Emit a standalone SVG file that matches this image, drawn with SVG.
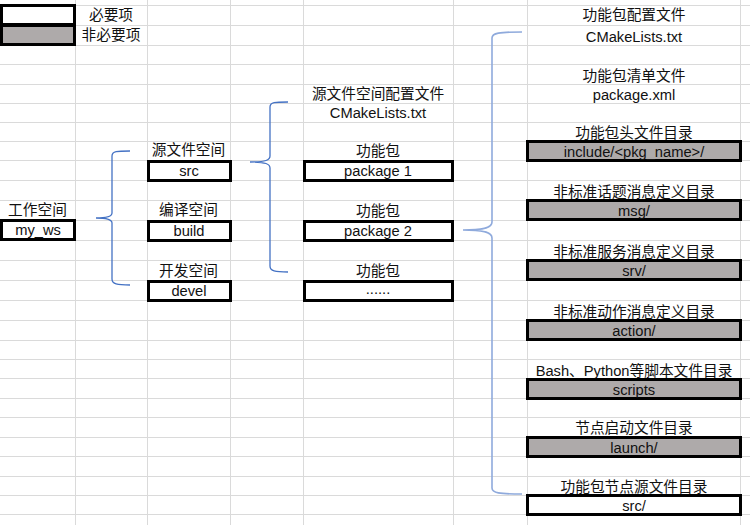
<svg xmlns="http://www.w3.org/2000/svg" width="750" height="525" viewBox="0 0 750 525">
<style>
.grid line{stroke:#DADADA;stroke-width:1}
.req{fill:#FFFFFF;stroke:#000;stroke-width:3}
.opt{fill:#AEAAAA;stroke:#000;stroke-width:3}
text{font-family:"Liberation Sans","Noto Sans CJK SC",sans-serif;font-size:14.7px;fill:#111;text-anchor:middle}
.brace{fill:none;stroke:#4472C4;stroke-width:1.3}
.brace2{fill:none;stroke:#8FAADC;stroke-width:1.6}
</style>
<rect width="750" height="525" fill="#FFFFFF"/>
<g class="grid">
<line x1="75.5" y1="0" x2="75.5" y2="525"/>
<line x1="147.5" y1="0" x2="147.5" y2="525"/>
<line x1="230.5" y1="0" x2="230.5" y2="525"/>
<line x1="303.5" y1="0" x2="303.5" y2="525"/>
<line x1="453.5" y1="0" x2="453.5" y2="525"/>
<line x1="527.5" y1="0" x2="527.5" y2="525"/>
<line x1="740.5" y1="0" x2="740.5" y2="525"/>
<line x1="0" y1="5.5" x2="750" y2="5.5"/>
<line x1="0" y1="25.5" x2="750" y2="25.5"/>
<line x1="0" y1="45.5" x2="750" y2="45.5"/>
<line x1="0" y1="64.5" x2="750" y2="64.5"/>
<line x1="0" y1="84.5" x2="750" y2="84.5"/>
<line x1="0" y1="103.5" x2="750" y2="103.5"/>
<line x1="0" y1="122.5" x2="750" y2="122.5"/>
<line x1="0" y1="141.5" x2="750" y2="141.5"/>
<line x1="0" y1="160.5" x2="750" y2="160.5"/>
<line x1="0" y1="180.5" x2="750" y2="180.5"/>
<line x1="0" y1="200.5" x2="750" y2="200.5"/>
<line x1="0" y1="220.5" x2="750" y2="220.5"/>
<line x1="0" y1="240.5" x2="750" y2="240.5"/>
<line x1="0" y1="260.5" x2="750" y2="260.5"/>
<line x1="0" y1="280.5" x2="750" y2="280.5"/>
<line x1="0" y1="300.5" x2="750" y2="300.5"/>
<line x1="0" y1="320.5" x2="750" y2="320.5"/>
<line x1="0" y1="340.5" x2="750" y2="340.5"/>
<line x1="0" y1="359.5" x2="750" y2="359.5"/>
<line x1="0" y1="378.5" x2="750" y2="378.5"/>
<line x1="0" y1="398.5" x2="750" y2="398.5"/>
<line x1="0" y1="417.5" x2="750" y2="417.5"/>
<line x1="0" y1="437.5" x2="750" y2="437.5"/>
<line x1="0" y1="456.5" x2="750" y2="456.5"/>
<line x1="0" y1="476.5" x2="750" y2="476.5"/>
<line x1="0" y1="495.5" x2="750" y2="495.5"/>
<line x1="0" y1="514.5" x2="750" y2="514.5"/>
</g>

<g id="legend-required">
<rect class="req" x="1.5" y="5.5" width="73" height="19"/>
<text x="111" y="20">必要项</text>
</g>
<g id="legend-optional">
<rect class="opt" x="1.5" y="25.5" width="73" height="19"/>
<text x="111" y="40">非必要项</text>
</g>

<g id="connectors">
<path class="brace" d="M130,151 C117,151 112,151 112,156 L112,213 C112,216 109,218 96,218 C109,218 112,220 112,223 L112,279 C112,284 117,285 130,285"/>
<path class="brace" d="M288,102 C275,102 270,102 270,107 L270,156 C270,160 266,162 250,162 C266,162 270,164 270,168 L270,266 C270,271 275,272 288,272"/>
<path class="brace2" d="M522,32 C499,32 492,33 492,38 L492,222 C492,227 486,230 463,230 C486,230 492,233 492,238 L492,488 C492,493 499,494 522,494"/>
</g>

<g id="my_ws">
<text x="37.5" y="215">工作空间</text>
<rect class="req" x="1.5" y="220.5" width="73" height="19"/>
<text x="38" y="235">my_ws</text>
</g>
<g id="src">
<text x="188.5" y="155">源文件空间</text>
<rect class="req" x="148.5" y="161.5" width="82" height="19"/>
<text x="189" y="176">src</text>
</g>
<g id="build">
<text x="188.5" y="215">编译空间</text>
<rect class="req" x="148.5" y="221.5" width="82" height="19"/>
<text x="189" y="236">build</text>
</g>
<g id="devel">
<text x="188.5" y="276">开发空间</text>
<rect class="req" x="148.5" y="281.5" width="82" height="19"/>
<text x="189" y="296">devel</text>
</g>

<g id="src-cmake">
<text x="378" y="99">源文件空间配置文件</text>
<text x="378" y="118">CMakeLists.txt</text>
</g>
<g id="package1">
<text x="378" y="156">功能包</text>
<rect class="req" x="304.5" y="161.5" width="148" height="19"/>
<text x="378" y="176">package 1</text>
</g>
<g id="package2">
<text x="378" y="216">功能包</text>
<rect class="req" x="304.5" y="221.5" width="148" height="19"/>
<text x="378" y="236">package 2</text>
</g>
<g id="package-more">
<text x="378" y="276">功能包</text>
<rect class="req" x="304.5" y="281.5" width="148" height="19"/>
<text x="378" y="294">......</text>
</g>

<g id="pkg-cmake">
<text x="634" y="20">功能包配置文件</text>
<text x="634" y="42">CMakeLists.txt</text>
</g>
<g id="pkg-xml">
<text x="634" y="81">功能包清单文件</text>
<text x="634" y="100">package.xml</text>
</g>
<g id="include">
<text x="634" y="138">功能包头文件目录</text>
<rect class="opt" x="527.5" y="141.5" width="213" height="19"/>
<text x="634" y="157">include/&lt;pkg_name&gt;/</text>
</g>
<g id="msg">
<text x="634" y="197">非标准话题消息定义目录</text>
<rect class="opt" x="527.5" y="200.5" width="213" height="19"/>
<text x="634" y="216">msg/</text>
</g>
<g id="srv">
<text x="634" y="257">非标准服务消息定义目录</text>
<rect class="opt" x="527.5" y="260.5" width="213" height="19"/>
<text x="634" y="276">srv/</text>
</g>
<g id="action">
<text x="634" y="317">非标准动作消息定义目录</text>
<rect class="opt" x="527.5" y="320.5" width="213" height="19"/>
<text x="634" y="336">action/</text>
</g>
<g id="scripts">
<text x="634" y="376">Bash、Python等脚本文件目录</text>
<rect class="opt" x="527.5" y="379.5" width="213" height="19"/>
<text x="634" y="395">scripts</text>
</g>
<g id="launch">
<text x="634" y="433">节点启动文件目录</text>
<rect class="opt" x="527.5" y="437.5" width="213" height="19"/>
<text x="634" y="453">launch/</text>
</g>
<g id="pkg-src">
<text x="634" y="492">功能包节点源文件目录</text>
<rect class="req" x="527.5" y="495.5" width="213" height="19"/>
<text x="634" y="511">src/</text>
</g>
</svg>
